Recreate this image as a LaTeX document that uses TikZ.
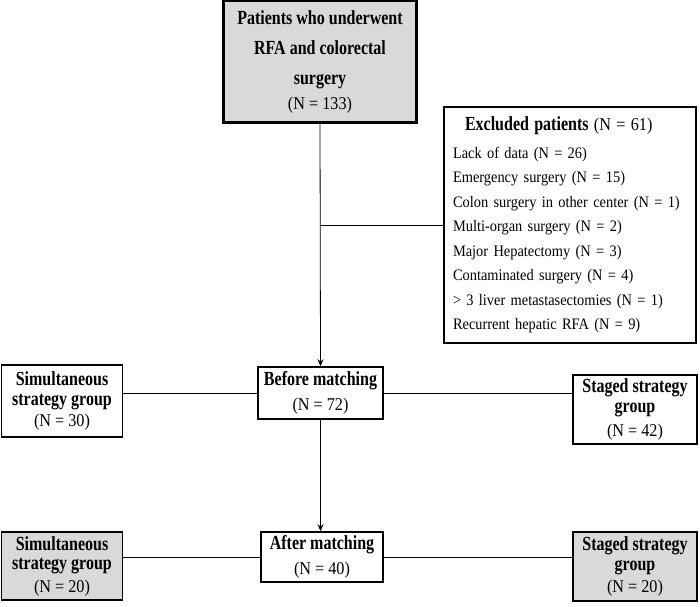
\documentclass[tikz,border=0pt]{standalone}
\usepackage{fontspec}
\usetikzlibrary{arrows.meta}
\setmainfont{Liberation Serif}[FakeStretch=0.9]
\newfontfamily\narrowserif{Liberation Serif}[FakeStretch=0.8]
\newcommand{\hd}[1]{{\narrowserif\bfseries\fontsize{20}{19.5}\selectfont #1}}
\definecolor{boxgray}{RGB}{217,217,217}
\begin{document}
\begin{tikzpicture}[>={Stealth[length=7pt,width=6pt]}, x=1pt, y=-1pt,
    box/.style={draw, line width=1.6pt, align=center, inner sep=0pt, font=\fontsize{18}{19.5}\selectfont},
    link/.style={line width=0.8pt}]
  \useasboundingbox (0,0) rectangle (700,606);
  % top of the flow
  \node[box, line width=2.6pt, fill=boxgray, minimum width=193pt, minimum height=122pt,
        font=\fontsize{18}{30}\selectfont] (total) at (320,61.5)
        {\hd{Patients who underwent}\\ \hd{RFA and colorectal}\\ \hd{surgery}\\[-5pt] (N = 133)};
  \node[draw, line width=1.6pt, minimum width=252pt, minimum height=236pt, inner xsep=9pt,
        text width=234pt, align=left, font=\fontsize{16}{24.5}\selectfont] (excl) at (570,225)
        {\hspace*{12pt}\hd{Excluded patients}{\fontsize{18}{24.5}\selectfont\ (N = 61)}\\[3.5pt]
         Lack of data (N = 26)\\
         Emergency surgery (N = 15)\\
         Colon surgery in other center (N = 1)\\
         Multi-organ surgery (N = 2)\\
         Major Hepatectomy (N = 3)\\
         Contaminated surgery (N = 4)\\
         > 3 liver metastasectomies (N = 1)\\
         Recurrent hepatic RFA (N = 9)};
  % before matching
  \node[box, minimum width=125pt, minimum height=52pt] (before) at (320.5,393)
        {\hd{Before matching}\\[6pt] (N = 72)};
  \node[box, minimum width=121pt, minimum height=72pt] (simulA) at (62,401)
        {\hd{Simultaneous}\\ \hd{strategy group}\\[2pt] (N = 30)};
  \node[box, minimum width=124pt, minimum height=69pt] (stagedA) at (635,409.5)
        {\hd{Staged strategy}\\ \hd{group}\\[5pt] (N = 42)};
  % after matching
  \node[box, minimum width=122pt, minimum height=50pt] (after) at (322,557)
        {\hd{After matching}\\[6pt] (N = 40)};
  \node[box, fill=boxgray, minimum width=121pt, minimum height=68pt] (simulB) at (62,566)
        {\hd{Simultaneous}\\ \hd{strategy group}\\[3pt] (N = 20)};
  \node[box, fill=boxgray, minimum width=124pt, minimum height=69pt] (stagedB) at (635,566.5)
        {\hd{Staged strategy}\\ \hd{group}\\[3pt] (N = 20)};
  % connectors
  \draw[link,->] (total.south) -- (before.north);
  \draw[link] (total.south |- excl.west) -- (excl.west);
  \draw[link,->] (before.south) -- (before.south |- after.north);
  \draw[link] (before.west) -- (before.west -| simulA.east);
  \draw[link] (before.east) -- (before.east -| stagedA.west);
  \draw[link] (after.west) -- (after.west -| simulB.east);
  \draw[link] (after.east) -- (after.east -| stagedB.west);
\end{tikzpicture}
\end{document}
